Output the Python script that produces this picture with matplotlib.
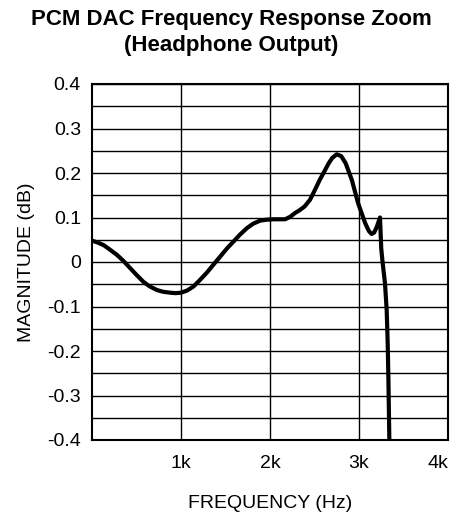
import matplotlib
matplotlib.use('Agg')
import matplotlib.pyplot as plt
import numpy as np

plt.rcParams['font.family'] = ['Liberation Sans', 'DejaVu Sans']

# frequency (Hz) and magnitude (dB)
freq = [0, 60, 130, 200, 280, 350, 430, 500, 580, 650, 730, 800, 880, 940,
        1000, 1070, 1140, 1210, 1290, 1360, 1440, 1510, 1590, 1660, 1740,
        1810, 1890, 1960, 2040, 2100, 2170, 2230, 2280, 2330, 2390, 2450,
        2500, 2560, 2620, 2660, 2700, 2750, 2800, 2850, 2920, 2990, 3070,
        3110, 3140, 3170, 3200, 3236, 3250, 3262, 3292, 3311, 3322, 3330,
        3341]
mag = [0.048, 0.044, 0.038, 0.028, 0.016, 0.003, -0.014, -0.029, -0.045,
       -0.055, -0.063, -0.067, -0.069, -0.070, -0.069, -0.064, -0.055, -0.041,
       -0.024, -0.007, 0.012, 0.029, 0.046, 0.061, 0.076, 0.086, 0.093, 0.095,
       0.096, 0.096, 0.096, 0.102, 0.110, 0.116, 0.125, 0.140, 0.160, 0.185,
       0.207, 0.222, 0.234, 0.242, 0.238, 0.222, 0.184, 0.132, 0.087, 0.070,
       0.063, 0.066, 0.079, 0.100, 0.030, 0.005, -0.048, -0.108, -0.180,
       -0.258, -0.4]

xticks = [1000, 2000, 3000, 4000]
xlabels = ['1k', '2k', '3k', '4k']
yticks = [-0.4, -0.3, -0.2, -0.1, 0, 0.1, 0.2, 0.3, 0.4]
ylabels = ['-0.4', '-0.3', '-0.2', '-0.1', '0', '0.1', '0.2', '0.3', '0.4']

fig = plt.figure(figsize=(4.62, 5.18), dpi=100)
ax = fig.add_axes([92/462, 1-440/518, 356/462, 356/518])

ax.plot(freq, mag, color='black', lw=3, solid_joinstyle='round', solid_capstyle='butt', zorder=3)

ax.set_xlim(0, 4000)
ax.set_ylim(-0.4, 0.4)
ax.set_xticks(xticks)
ax.set_xticklabels(xlabels)
ax.set_yticks(yticks)
ax.set_yticklabels(ylabels)
ax.set_yticks(np.arange(-0.35, 0.4, 0.1), minor=True)
ax.tick_params(axis='both', which='both', length=0, labelsize=14)
ax.tick_params(axis='y', pad=8)
ax.tick_params(axis='x', pad=11)
ax.get_xticklabels()[-1].set_ha('right')
ax.grid(True, which='both', color='black', lw=1.0)
for s in ax.spines.values():
    s.set_linewidth(1.5)

ax.set_xlabel('FREQUENCY (Hz)', fontsize=14, labelpad=16)
ax.set_ylabel('MAGNITUDE (dB)', fontsize=14, labelpad=9)

fig.text(0.5, 1-20/518, 'PCM DAC Frequency Response Zoom', ha='center', va='center',
         fontsize=16, fontweight='bold')
fig.text(0.5, 1-45/518, '(Headphone Output)', ha='center', va='center',
         fontsize=16, fontweight='bold')

fig.savefig('out.png', dpi=100)
